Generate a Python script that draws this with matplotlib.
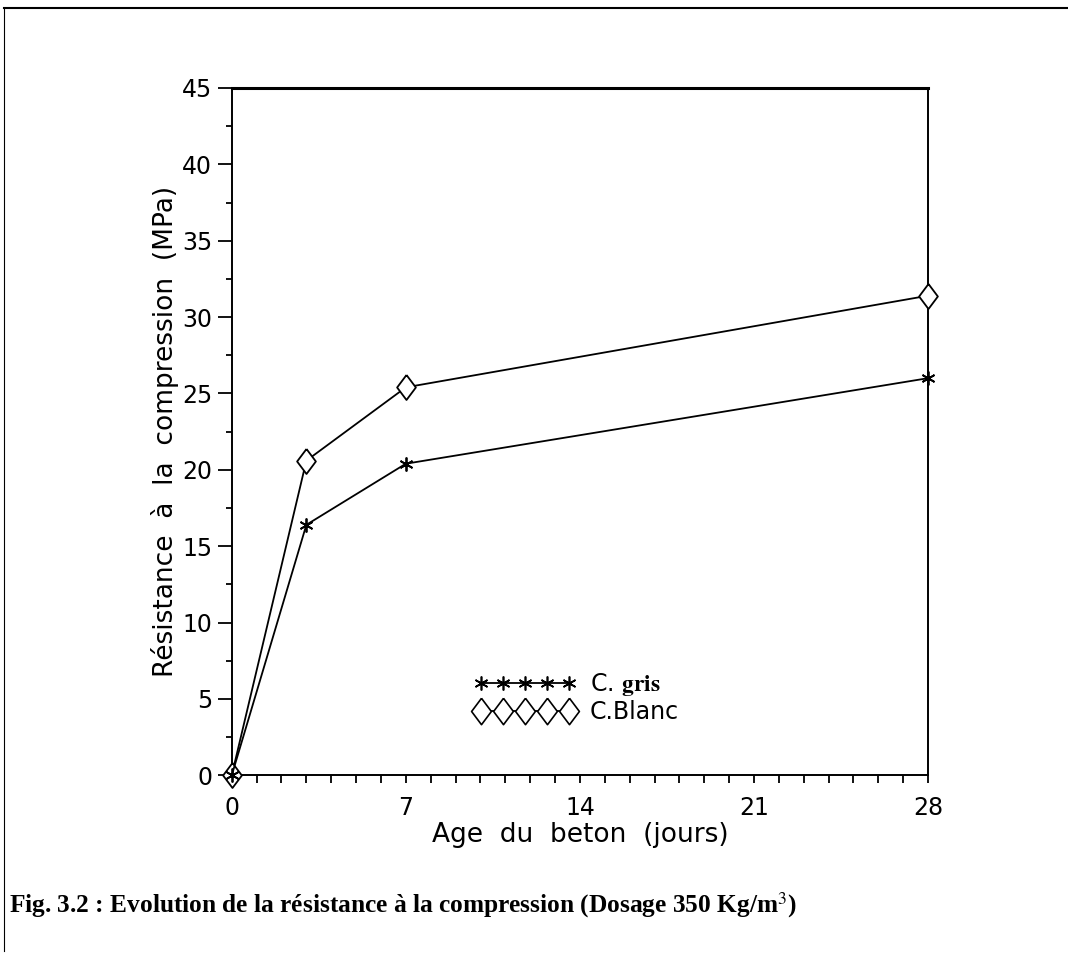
import matplotlib.pyplot as plt
from matplotlib.lines import Line2D
import numpy as np

# data
age = [0, 3, 7, 28]
gris = [0, 16.4, 20.4, 26.0]
blanc = [0, 20.6, 25.4, 31.4]

plt.rcParams['font.family'] = 'DejaVu Sans'
plt.rcParams['mathtext.fontset'] = 'stix'

# diamond a bit wider than matplotlib's thin one
diamond = [(0, 1), (0.75, 0), (0, -1), (-0.75, 0), (0, 1)]

fig = plt.figure(figsize=(10.68, 9.56), dpi=100)
ax = fig.add_axes([0.217, 0.189, 0.652, 0.719])

ax.plot(age, blanc, color='black', lw=1.3, marker=diamond, ms=18, mfc='white',
        mec='black', mew=1.3, clip_on=False, zorder=3)
ax.plot(age, gris, color='black', lw=1.3, marker=(6, 2, 0), ms=10,
        mec='black', mew=1.3, clip_on=False, zorder=3)

ax.set_xlim(0, 28)
ax.set_ylim(0, 45)
ax.set_xticks([0, 7, 14, 21, 28])
ax.set_xticks(np.arange(0, 29, 1), minor=True)
ax.set_yticks(np.arange(0, 46, 5))
ax.set_yticks(np.arange(0, 45, 2.5), minor=True)
ax.tick_params(which='both', direction='out', width=1.3, labelsize=17)
ax.tick_params(axis='y', which='major', length=10, pad=4)
ax.tick_params(axis='y', which='minor', length=4)
ax.tick_params(axis='x', which='major', length=6, pad=9)
ax.tick_params(axis='x', which='minor', length=6)
for s in ax.spines.values():
    s.set_linewidth(1.4)
ax.spines['top'].set_linewidth(2.2)

ax.set_xlabel('Age  du  beton  (jours)', fontsize=19, labelpad=1)
ax.set_ylabel('Résistance  à  la  compression  (MPa)', fontsize=19, labelpad=2)

# legend with five markers per entry
h1 = Line2D([], [], color='black', lw=1.3, marker=(6, 2, 0), ms=10, mew=1.2)
h2 = Line2D([], [], color='black', lw=1.3, marker=diamond, ms=19, mfc='white', mew=1.2)
leg = ax.legend([h1, h2], [r'C. $\mathbf{gris}$', 'C.Blanc'], loc='upper left',
                bbox_to_anchor=(0.348, 0.152), frameon=False, numpoints=5,
                handlelength=4.3, handletextpad=0.6, labelspacing=0.1,
                borderpad=0, borderaxespad=0, fontsize=17)

# outer frame of the page figure
fig.add_artist(Line2D([0.004, 1.0], [0.992, 0.992], color='black', lw=1.5,
                      transform=fig.transFigure))
fig.add_artist(Line2D([0.004, 0.004], [0.005, 0.992], color='black', lw=0.8,
                      transform=fig.transFigure))

fig.text(0.008, 0.046, 'Fig. 3.2 : Evolution de la résistance à la compression (Dosage 350 Kg/m$^3$)',
         fontsize=18.3, fontweight='bold', family='Liberation Serif', va='baseline')

fig.savefig('out.png', dpi=100)
